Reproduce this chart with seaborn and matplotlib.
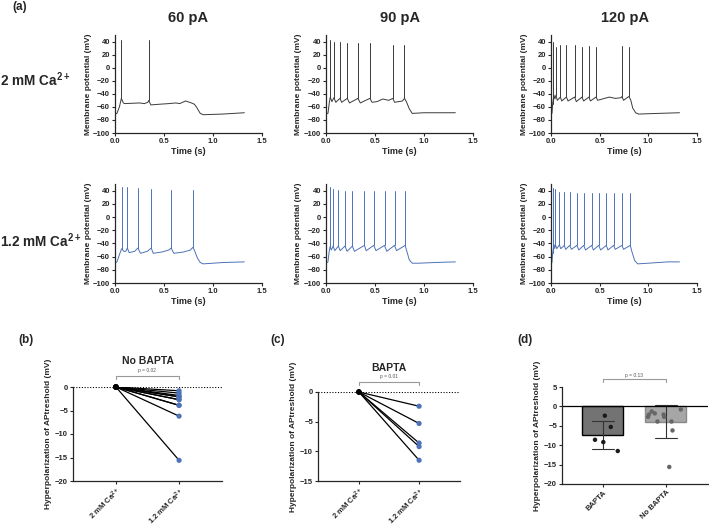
import numpy as np
import pandas as pd
import matplotlib
matplotlib.use("Agg")
import matplotlib.pyplot as plt
import seaborn as sns

# ---------------- data ----------------
currents = ["60 pA", "90 pA", "120 pA"]
conditions = ["2 mM Ca$^{2+}$", "1.2 mM Ca$^{2+}$"]

# Row 1 (2 mM Ca2+) baselines (time s, mV) and spikes
base_2_60 = [(0, -71), (0.02, -70), (0.045, -60), (0.065, -47), (0.085, -54), (0.1, -55), (0.25, -54),
             (0.3, -55), (0.335, -53), (0.345, -50), (0.365, -57), (0.45, -56), (0.55, -55), (0.62, -54),
             (0.66, -55), (0.72, -51), (0.78, -54), (0.81, -56), (0.83, -60), (0.87, -70), (0.9, -72),
             (1.1, -71), (1.32, -69)]
spk_t_2_60 = [0.065, 0.345]
spk_pk_2_60 = [42, 42]
spk_b_2_60 = [-47, -50]

base_2_90 = [(0, -70), (0.02, -70), (0.035, -52), (0.044, -45), (0.06, -52), (0.081, -46), (0.1, -53),
             (0.142, -47), (0.16, -53), (0.217, -47), (0.24, -54), (0.326, -47), (0.35, -54), (0.448, -47),
             (0.47, -53), (0.52, -52), (0.58, -48), (0.64, -50), (0.682, -47), (0.7, -53), (0.78, -51),
             (0.801, -47), (0.82, -52), (0.85, -63), (0.88, -70), (1.0, -69), (1.32, -69)]
spk_t_2_90 = [0.044, 0.081, 0.142, 0.217, 0.326, 0.448, 0.682, 0.801]
spk_pk_2_90 = [42, 39, 39, 38, 37, 37, 35, 35]
spk_b_2_90 = [-45, -46, -47, -47, -47, -47, -47, -47]

base_2_120 = [(0, -70), (0.01, -70), (0.017, -55), (0.03, -42), (0.04, -48), (0.051, -42), (0.065, -50),
              (0.096, -45), (0.11, -51), (0.158, -45), (0.175, -51), (0.243, -45), (0.26, -52), (0.318, -45),
              (0.335, -51), (0.39, -45), (0.405, -51), (0.462, -45), (0.48, -50), (0.55, -47), (0.6, -45),
              (0.66, -47), (0.72, -46), (0.729, -44), (0.745, -50), (0.801, -44), (0.82, -50), (0.84, -62),
              (0.87, -69), (0.9, -71), (1.1, -70), (1.32, -69)]
spk_t_2_120 = [0.017, 0.051, 0.096, 0.158, 0.243, 0.318, 0.390, 0.462, 0.729, 0.801]
spk_pk_2_120 = [40, 31, 35, 35, 35, 32, 33, 32, 33, 32]
spk_b_2_120 = [-55, -42, -45, -45, -45, -45, -45, -45, -44, -44]

# Row 2 (1.2 mM Ca2+)
base_12_60 = [(0, -70), (0.02, -68), (0.05, -55), (0.068, -48), (0.09, -52), (0.11, -52), (0.126, -47),
              (0.145, -54), (0.2, -52), (0.234, -47), (0.26, -55), (0.33, -52), (0.37, -47), (0.39, -55),
              (0.48, -53), (0.55, -50), (0.573, -47), (0.6, -55), (0.7, -53), (0.77, -50), (0.794, -46),
              (0.81, -50), (0.84, -62), (0.87, -69), (0.9, -71), (1.1, -69), (1.32, -68)]
spk_t_12_60 = [0.068, 0.126, 0.234, 0.370, 0.573, 0.794]
spk_pk_12_60 = [46, 45, 44, 42, 41, 41]
spk_b_12_60 = [-48, -47, -47, -47, -47, -46]

base_12_90 = [(0, -70), (0.02, -68), (0.03, -55), (0.041, -45), (0.055, -50), (0.072, -44), (0.09, -51),
              (0.126, -44), (0.145, -51), (0.194, -44), (0.215, -52), (0.269, -44), (0.29, -52), (0.392, -43),
              (0.41, -51), (0.488, -43), (0.51, -51), (0.597, -43), (0.62, -52), (0.699, -43), (0.72, -51),
              (0.808, -43), (0.825, -52), (0.85, -65), (0.88, -70), (0.95, -70), (1.1, -69), (1.32, -68)]
spk_t_12_90 = [0.041, 0.072, 0.126, 0.194, 0.269, 0.392, 0.488, 0.597, 0.699, 0.808]
spk_pk_12_90 = [45, 42, 41, 40, 40, 40, 40, 40, 39, 39]
spk_b_12_90 = [-45, -44, -44, -44, -44, -43, -43, -43, -43, -43]

base_12_120 = [(0, -70), (0.01, -69), (0.017, -55), (0.03, -42), (0.038, -48), (0.045, -42), (0.06, -48),
               (0.086, -42), (0.1, -48), (0.137, -43), (0.15, -49), (0.192, -43), (0.21, -49), (0.267, -43),
               (0.285, -50), (0.336, -43), (0.355, -50), (0.418, -43), (0.435, -50), (0.49, -43), (0.51, -50),
               (0.568, -43), (0.585, -50), (0.644, -43), (0.66, -49), (0.729, -43), (0.745, -49), (0.815, -43),
               (0.83, -52), (0.86, -66), (0.89, -71), (1.0, -70), (1.2, -68), (1.32, -68)]
spk_t_12_120 = [0.017, 0.045, 0.086, 0.137, 0.192, 0.267, 0.336, 0.418, 0.490, 0.568, 0.644, 0.729, 0.815]
spk_pk_12_120 = [44, 42, 38, 38, 38, 37, 37, 37, 36, 36, 36, 36, 36]
spk_b_12_120 = [-55, -42, -42, -43, -43, -43, -43, -43, -43, -43, -43, -43, -43]

# Threshold hyperpolarization (mV) at 1.2 mM relative to 2 mM
no_bapta = [-0.8, -1.3, -1.8, -2.1, -2.1, -2.7, -2.7, -3.9, -3.9, -6.2, -15.6]
bapta = [-2.4, -5.3, -8.6, -9.2, -11.5]
pair_labels = ["2 mM Ca$^{2+}$", "1.2 mM Ca$^{2+}$"]
group_labels = ["BAPTA", "No BAPTA"]
p_b, p_c, p_d = "p = 0.02", "p = 0.01", "p = 0.13"

# ---------------- style ----------------
sns.set_style("ticks")
plt.rcParams["font.family"] = ["Liberation Sans", "DejaVu Sans"]
plt.rcParams["font.weight"] = "bold"
plt.rcParams["axes.labelweight"] = "bold"
plt.rcParams["mathtext.fontset"] = "custom"
plt.rcParams["mathtext.rm"] = "Liberation Sans:bold"
plt.rcParams["mathtext.bf"] = "Liberation Sans:bold"
plt.rcParams["mathtext.default"] = "bf"
plt.rcParams["axes.linewidth"] = 0.9

W, H = 709, 528
fig = plt.figure(figsize=(W / 100, H / 100), dpi=100)


def ax_px(x0, y0, x1, y1):
    return fig.add_axes([x0 / W, 1 - y1 / H, (x1 - x0) / W, (y1 - y0) / H])


def style(ax, ls=5.5):
    sns.despine(ax=ax)
    ax.tick_params(labelsize=ls, length=2.5, width=0.8, pad=1)


trace_sets = [
    [(base_2_60, spk_t_2_60, spk_pk_2_60, spk_b_2_60),
     (base_2_90, spk_t_2_90, spk_pk_2_90, spk_b_2_90),
     (base_2_120, spk_t_2_120, spk_pk_2_120, spk_b_2_120)],
    [(base_12_60, spk_t_12_60, spk_pk_12_60, spk_b_12_60),
     (base_12_90, spk_t_12_90, spk_pk_12_90, spk_b_12_90),
     (base_12_120, spk_t_12_120, spk_pk_12_120, spk_b_12_120)],
]
row_y = [(35, 133), (184, 283)]
col_x = [(115, 262), (326, 473), (551, 697)]
row_colors = ["#3a3a3a", "#4d72b8"]

for r in range(2):
    for c in range(3):
        base, st, sp, sb = trace_sets[r][c]
        ax = ax_px(col_x[c][0], row_y[r][0], col_x[c][1], row_y[r][1])
        df = pd.DataFrame(base, columns=["t", "v"])
        sns.lineplot(data=df, x="t", y="v", sort=False, estimator=None, color=row_colors[r], lw=0.7, ax=ax)
        spikes = pd.DataFrame({"t": list(st) + list(st), "v": list(sb) + list(sp),
                               "k": list(range(len(st))) * 2})
        sns.lineplot(data=spikes, x="t", y="v", units="k", estimator=None, sort=False,
                     color=row_colors[r], lw=0.7, ax=ax)
        ax.set_xlim(0, 1.5)
        ax.set_ylim(-100, 50)
        ax.set_xticks([0, 0.5, 1.0, 1.5])
        ax.set_xticklabels(["0.0", "0.5", "1.0", "1.5"])
        ax.set_yticks(np.arange(-100, 41, 20))
        ax.set_xlabel("Time (s)", fontsize=6.5, labelpad=1.5)
        ax.set_ylabel("Membrane potential (mV)", fontsize=6, labelpad=1)
        style(ax)

for c, cx in enumerate([188, 400, 625]):
    fig.text(cx / W, 1 - 18 / H, currents[c], ha="center", va="center", fontsize=10.5, fontweight="bold")
fig.text(0 / W, 1 - 80 / H, conditions[0], ha="left", va="center", fontsize=9.8)
fig.text(0 / W, 1 - 241 / H, conditions[1], ha="left", va="center", fontsize=9.8)

for lab, (x, y) in {"(a)": (12, 7), "(b)": (18, 340), "(c)": (270, 340), "(d)": (517, 340)}.items():
    fig.text(x / W, 1 - y / H, lab, ha="left", va="center", fontsize=8.5, fontweight="bold")

blue = "#4d72b8"


def paired(ax, vals, title, ptxt, ylim, yticks, title_y, br_y, br_h):
    n = len(vals)
    df = pd.DataFrame({"x": [0] * n + [1] * n, "y": [0.0] * n + list(vals), "id": list(range(n)) * 2})
    ax.axhline(0, color="k", ls=(0, (1, 1.5)), lw=0.8)
    sns.lineplot(data=df, x="x", y="y", units="id", estimator=None, color="k", lw=0.9, ax=ax)
    sns.scatterplot(data=df, x="x", y="y", hue="x", palette=["k", blue], s=14, edgecolor="none",
                    legend=False, ax=ax, clip_on=False, zorder=3)
    ax.set_xlim(-0.68, 1.68)
    ax.set_ylim(*ylim)
    ax.set_yticks(yticks)
    ax.set_xticks([0, 1])
    ax.set_xticklabels(pair_labels, rotation=45, ha="right", rotation_mode="anchor", fontsize=4.6)
    ax.tick_params(axis="x", pad=0.5)
    ax.set_xlabel("")
    ax.set_ylabel("Hyperpolarization of APtreshold (mV)", fontsize=6, labelpad=2)
    style(ax, 5.5)
    ax.plot([0, 0, 1, 1], [br_y - br_h, br_y, br_y, br_y - br_h], color="#999999", lw=0.8, clip_on=False)
    ax.text(0.5, br_y + br_h * 0.6, ptxt, ha="center", va="bottom", fontsize=3.5, color="#555555",
            fontweight="normal")
    ax.text(0.5, title_y, title, ha="center", va="center", fontsize=7.5, fontweight="bold")


ax_b = ax_px(73, 387, 222, 481)
paired(ax_b, no_bapta, "No BAPTA", p_b, (-20, 0), [0, -5, -10, -15, -20], 5.6, 2.4, 0.8)
ax_c = ax_px(318, 392, 460, 481)
paired(ax_c, bapta, "BAPTA", p_c, (-15, 0), [0, -5, -10, -15], 4.1, 1.75, 0.6)

# panel d
np.random.seed(3)
ax_d = ax_px(562, 387, 708, 484)
dd = pd.DataFrame({"group": ["BAPTA"] * len(bapta) + ["No BAPTA"] * len(no_bapta), "val": bapta + no_bapta})
sns.barplot(data=dd, x="group", y="val", order=group_labels, palette=["#737373", "#a6a6a6"], hue="group",
            legend=False, errorbar="sd", capsize=0.35, width=0.65,
            err_kws={"color": "#333333", "linewidth": 0.8}, ax=ax_d)
for patch, ec in zip(ax_d.patches, ["k", "#8a8a8a"]):
    patch.set_edgecolor(ec)
    patch.set_linewidth(1.0)
sns.stripplot(data=dd, x="group", y="val", order=group_labels, hue="group", palette=["#1a1a1a", "#666666"],
              legend=False, size=3.2, jitter=0.3, ax=ax_d, zorder=4)
ax_d.axhline(0, color="k", lw=0.9)
ax_d.set_xlim(-0.65, 1.67)
ax_d.set_ylim(-20, 5)
ax_d.set_yticks([5, 0, -5, -10, -15, -20])
ax_d.set_xticks([0, 1])
ax_d.set_xticklabels(group_labels, rotation=45, ha="right", rotation_mode="anchor", fontsize=5.5)
ax_d.set_xlabel("")
ax_d.set_ylabel("Hyperpolarization of APtreshold (mV)", fontsize=6, labelpad=2)
style(ax_d, 5.5)
ax_d.plot([0, 0, 1, 1], [6.3, 7.0, 7.0, 6.3], color="#999999", lw=0.8, clip_on=False)
ax_d.text(0.5, 7.4, p_d, ha="center", va="bottom", fontsize=3.5, color="#555555", fontweight="normal")

fig.savefig("out.png", dpi=100)
